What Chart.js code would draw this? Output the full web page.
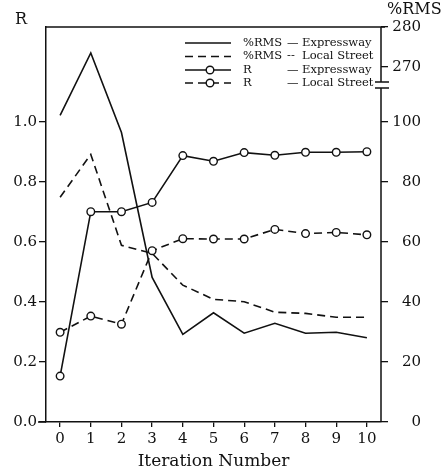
<!DOCTYPE html>
<html><head><meta charset="utf-8">
<script src="https://cdn.jsdelivr.net/npm/chart.js@4/dist/chart.umd.min.js"></script>
<style>html,body{margin:0;padding:0;background:#fff}#wrap{width:448px;height:472px;position:relative}</style>
</head><body><div id="wrap"><canvas id="c" width="448" height="472"></canvas></div>
<script>
// ---- data ----
const iterations = [0, 1, 2, 3, 4, 5, 6, 7, 8, 9, 10];
const rmsExpressway = [102.2, 273.5, 96.5, 48.2, 29.2, 36.4, 29.6, 32.9, 29.6, 29.9, 28.1];
const rmsLocalStreet = [74.9, 89.2, 58.9, 56.2, 45.6, 40.9, 40.1, 36.6, 36.2, 34.9, 34.9];
const rExpressway = [0.153, 0.701, 0.701, 0.732, 0.888, 0.869, 0.898, 0.889, 0.899, 0.899, 0.901];
const rLocalStreet = [0.299, 0.353, 0.326, 0.571, 0.611, 0.610, 0.610, 0.642, 0.628, 0.632, 0.624];
const rTicks = [0, 0.2, 0.4, 0.6, 0.8, 1.0];
const rmsTicks = [0, 20, 40, 60, 80, 100, 270, 280];
const seriesNames = ['%RMS', '%RMS', 'R', 'R'];
const separators = ['\u2014', '--', '\u2014', '\u2014'];
const roadNames = ['Expressway', 'Local Street', 'Expressway', 'Local Street'];
const xTitle = 'Iteration Number';
const leftTitle = 'R';
const rightTitle = '%RMS';

// ---- broken right axis: 0..100 linear, then 270..280 above a break ----
const UPPER_BASE = 118.333, UPPER_SCALE = 4 / 3, AXIS_TOP = 131.667, BREAK_HI = 113.3, BREAK_LO = 111.3;
function rmsPos(v) { return v <= 150 ? v : UPPER_BASE + (v - 270) * UPPER_SCALE; }
const toPts = arr => arr.map((y, i) => ({ x: iterations[i], y }));

const SERIF = "'DejaVu Serif', serif";
const INK = '#111';
const DASH = [8, 5];

const datasets = [
  { label: seriesNames[0] + ' ' + separators[0] + ' ' + roadNames[0], data: toPts(rmsExpressway.map(rmsPos)), yAxisID: 'y2', borderDash: [], pointRadius: 0 },
  { label: seriesNames[1] + ' ' + separators[1] + ' ' + roadNames[1], data: toPts(rmsLocalStreet.map(rmsPos)), yAxisID: 'y2', borderDash: DASH, pointRadius: 0 },
  { label: seriesNames[2] + ' ' + separators[2] + ' ' + roadNames[2], data: toPts(rExpressway), yAxisID: 'y', borderDash: [], pointRadius: 3.8 },
  { label: seriesNames[3] + ' ' + separators[3] + ' ' + roadNames[3], data: toPts(rLocalStreet), yAxisID: 'y', borderDash: DASH, pointRadius: 3.8 }
].map(d => Object.assign({
  borderColor: INK, borderWidth: 1.6, fill: false, tension: 0,
  pointBackgroundColor: '#fff', pointBorderColor: INK, pointBorderWidth: 1.4, pointHoverRadius: 0
}, d));

const framePlugin = {
  id: 'frame',
  afterDraw(chart) {
    const { ctx, chartArea: a } = chart;
    const y2 = chart.scales.y2;
    const yHi = y2.getPixelForValue(BREAK_HI), yLo = y2.getPixelForValue(BREAK_LO);
    ctx.save();
    ctx.strokeStyle = INK; ctx.lineWidth = 1.5; ctx.setLineDash([]);
    ctx.beginPath();
    ctx.moveTo(a.left, a.top); ctx.lineTo(a.right + 4, a.top);
    ctx.moveTo(a.right, a.top); ctx.lineTo(a.right, yHi);
    ctx.moveTo(a.right, yLo); ctx.lineTo(a.right, a.bottom);
    ctx.moveTo(a.right - 6, yHi); ctx.lineTo(a.right + 8, yHi);
    ctx.moveTo(a.right - 6, yLo); ctx.lineTo(a.right + 8, yLo);
    ctx.moveTo(a.left - 8, a.bottom); ctx.lineTo(a.left, a.bottom);
    ctx.stroke();
    // axis titles
    ctx.fillStyle = INK;
    ctx.font = '16px ' + SERIF;
    ctx.textBaseline = 'middle'; ctx.textAlign = 'center';
    ctx.fillText(leftTitle, 21, 20);
    ctx.font = '16px ' + SERIF; ctx.textAlign = 'left';
    ctx.fillText(rightTitle, 387, 10);
    // legend
    const rows = [43, 56.5, 70, 83];
    const x0 = 185, x1 = 231;
    chart.data.datasets.forEach((ds, i) => {
      const y = rows[i];
      ctx.setLineDash(ds.borderDash);
      ctx.lineWidth = ds.borderWidth; ctx.strokeStyle = INK;
      ctx.beginPath(); ctx.moveTo(x0, y); ctx.lineTo(x1, y); ctx.stroke();
      ctx.setLineDash([]);
      if (ds.pointRadius > 0) {
        ctx.beginPath(); ctx.arc(210, y, ds.pointRadius, 0, Math.PI * 2);
        ctx.fillStyle = '#fff'; ctx.fill(); ctx.lineWidth = ds.pointBorderWidth; ctx.stroke();
      }
      ctx.fillStyle = INK; ctx.font = '11.5px ' + SERIF; ctx.textAlign = 'left'; ctx.textBaseline = 'middle';
      ctx.fillText(seriesNames[i], 243, y);
      ctx.fillText(separators[i], 287, y);
      ctx.fillText(roadNames[i], 302, y);
    });
    ctx.restore();
  }
};

new Chart(document.getElementById('c'), {
  type: 'line',
  data: { datasets },
  options: {
    responsive: false, animation: false, devicePixelRatio: 1,
    layout: { padding: { top: 27, left: 0, right: 27, bottom: 0 } },
    plugins: { legend: { display: false }, tooltip: { enabled: false } },
    scales: {
      x: {
        type: 'linear', min: -0.46, max: 10.46,
        afterBuildTicks: s => { s.ticks = iterations.map(v => ({ value: v })); },
        afterFit: s => { s.height = 50; },
        ticks: { color: INK, font: { family: SERIF, size: 15 }, padding: 3, maxRotation: 0, callback: v => String(v) },
        grid: { drawOnChartArea: false, drawTicks: true, tickLength: 5, color: INK, lineWidth: 1.3 },
        border: { display: true, color: INK, width: 1.5 },
        title: { display: true, text: xTitle, color: INK, font: { family: SERIF, size: 17 }, padding: { top: 0, bottom: 0 } }
      },
      y: {
        position: 'left', min: 0, max: AXIS_TOP / 100,
        afterBuildTicks: s => { s.ticks = rTicks.map(v => ({ value: v })); },
        afterFit: s => { s.width = 46; },
        ticks: { color: INK, font: { family: SERIF, size: 15 }, padding: 2, callback: v => Number(v).toFixed(1) },
        grid: { drawOnChartArea: false, drawTicks: true, tickLength: 7, color: INK, lineWidth: 1.3 },
        border: { display: true, color: INK, width: 1.5 }
      },
      y2: {
        position: 'right', min: 0, max: AXIS_TOP,
        afterBuildTicks: s => { s.ticks = rmsTicks.map(v => ({ value: rmsPos(v) })); },
        afterFit: s => { s.width = 40; },
        ticks: { color: INK, font: { family: SERIF, size: 15 }, padding: 2, crossAlign: 'far',
          callback: (v, i) => String(rmsTicks[i]) },
        grid: { drawOnChartArea: false, drawTicks: true, tickLength: 7, color: INK, lineWidth: 1.3 },
        border: { display: false }
      }
    }
  },
  plugins: [framePlugin]
});
</script>
</body></html>
